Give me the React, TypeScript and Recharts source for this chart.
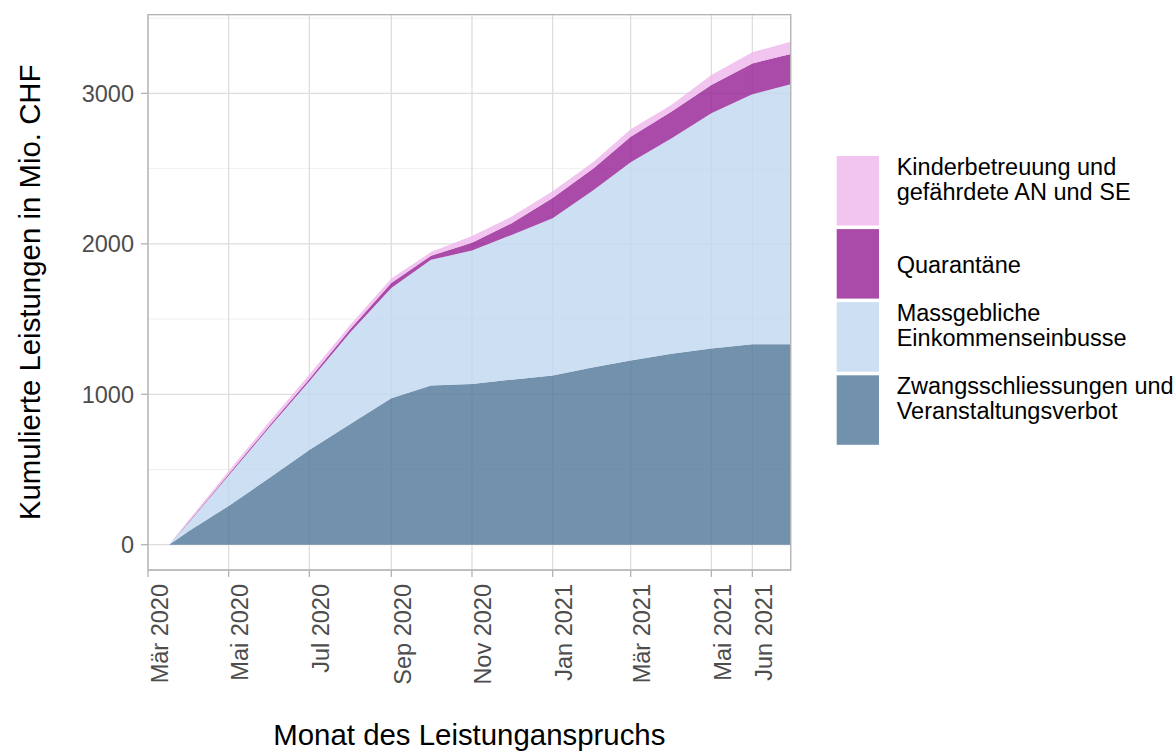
import {
  Area,
  AreaChart,
  CartesianGrid,
  ReferenceArea,
  XAxis,
  YAxis,
} from 'recharts';

const FONT = '"Liberation Sans", Arial, sans-serif';

// cumulative values in Mio. CHF (month starts)
const dates = [
  '2020-03-17', '2020-04-01', '2020-05-01', '2020-06-01', '2020-07-01',
  '2020-08-01', '2020-09-01', '2020-10-01', '2020-11-01', '2020-12-01',
  '2021-01-01', '2021-02-01', '2021-03-01', '2021-04-01', '2021-05-01',
  '2021-06-01', '2021-06-30',
];
const zwangs = [0, 91, 258, 445, 630, 803, 974, 1058, 1068, 1097, 1124, 1179, 1224, 1270, 1304, 1332, 1332];
const massgeb = [0, 59, 202, 337, 456, 609, 733, 836, 887, 962, 1046, 1179, 1319, 1432, 1564, 1662, 1728];
const quarantaene = [0, 4, 8, 12, 16, 22, 33, 26, 52, 78, 134, 144, 169, 177, 188, 205, 201];
const kinder = [0, 12, 22, 26, 29, 28, 30, 25, 45, 44, 45, 44, 50, 46, 66, 74, 82];

const xTicks = [
  '2020-03-01', '2020-05-01', '2020-07-01', '2020-09-01', '2020-11-01',
  '2021-01-01', '2021-03-01', '2021-05-01', '2021-06-01',
];
const xTickLabels = [
  'Mär 2020', 'Mai 2020', 'Jul 2020', 'Sep 2020', 'Nov 2020',
  'Jan 2021', 'Mär 2021', 'Mai 2021', 'Jun 2021',
];
const xLimits = ['2020-03-01', '2021-06-30'];
const yTicks = [0, 1000, 2000, 3000];
const yMinor = [500, 1500, 2500, 3500];
const yLimits = [-168, 3523];

const toTime = (s: string) => Date.parse(s + 'T00:00:00Z');

const series = [
  { key: 'zwangs', label: ['Zwangsschliessungen und', 'Veranstaltungsverbot'], color: '#4F7598' },
  { key: 'massgeb', label: ['Massgebliche', 'Einkommenseinbusse'], color: '#BFD7F0' },
  { key: 'quarantaene', label: ['Quarantäne'], color: '#951E95' },
  { key: 'kinder', label: ['Kinderbetreuung und', 'gefährdete AN und SE'], color: '#EFB5EC' },
];

const data = dates.map((d, i) => ({
  t: toTime(d),
  zwangs: zwangs[i],
  massgeb: massgeb[i],
  quarantaene: quarantaene[i],
  kinder: kinder[i],
}));

const tickTimes = xTicks.map(toTime);

const XTick = (props: any) => {
  const { x, y, payload } = props;
  const idx = tickTimes.indexOf(payload.value);
  return (
    <g transform={`translate(${x},${y}) rotate(-90)`}>
      <text x={0} y={0} dy={19.5} textAnchor="end" fill="#4D4D4D" fontSize={23.5} fontFamily={FONT}>
        {xTickLabels[idx]}
      </text>
    </g>
  );
};

const YTitle = (props: any) => {
  const { viewBox } = props;
  const cy = viewBox.y + viewBox.height / 2;
  return (
    <text
      x={40.5}
      y={cy}
      transform={`rotate(-90, 40.5, ${cy})`}
      textAnchor="middle"
      fontSize={29.4}
      fontFamily={FONT}
      fill="#000"
    >
      Kumulierte Leistungen in Mio. CHF
    </text>
  );
};

const XTitle = (props: any) => {
  const { viewBox } = props;
  return (
    <text
      x={viewBox.x + viewBox.width / 2}
      y={745}
      textAnchor="middle"
      fontSize={29.4}
      fontFamily={FONT}
      fill="#000"
    >
      Monat des Leistunganspruchs
    </text>
  );
};

function LegendBox() {
  const items = [...series].reverse();
  return (
    <svg
      width={1176}
      height={751}
      style={{ position: 'absolute', left: 0, top: 0, pointerEvents: 'none' }}
    >
      {items.map((s, i) => {
        const top = 156 + i * 73.1;
        return (
          <g key={s.key}>
            <rect x={836.7} y={top} width={42.3} height={69.5} fill={s.color} fillOpacity={0.8} />
            {s.label.length === 1 ? (
              <text x={896.7} y={top + 44} fontSize={23.5} fontFamily={FONT} fill="#000">
                {s.label[0]}
              </text>
            ) : (
              s.label.map((l, j) => (
                <text key={j} x={896.7} y={top + 18.5 + j * 25.5} fontSize={23.5} fontFamily={FONT} fill="#000">
                  {l}
                </text>
              ))
            )}
          </g>
        );
      })}
    </svg>
  );
}

export default function App() {
  const xDomain = xLimits.map(toTime);
  return (
    <div style={{ position: 'absolute', left: 0, top: 0, width: 1176, height: 751, background: '#fff' }}>
      <AreaChart
        width={1176}
        height={751}
        data={data}
        margin={{ top: 14.7, right: 385.3, bottom: 0, left: 0 }}
        style={{ fontFamily: FONT }}
      >
        <CartesianGrid vertical={false} horizontalValues={yMinor} stroke="#EBEBEB" strokeWidth={0.8} />
        <CartesianGrid stroke="#DEDEDE" strokeWidth={1.3} />
        <XAxis
          dataKey="t"
          type="number"
          domain={xDomain}
          allowDataOverflow
          ticks={tickTimes}
          interval={0}
          height={181}
          axisLine={false}
          tickLine={{ stroke: '#B3B3B3', strokeWidth: 1.3 }}
          tickSize={7}
          tickMargin={7}
          tick={<XTick />}
          label={<XTitle />}
        />
        <YAxis
          type="number"
          domain={yLimits}
          allowDataOverflow
          ticks={yTicks}
          interval={0}
          width={148}
          axisLine={false}
          tickLine={{ stroke: '#B3B3B3', strokeWidth: 1.3 }}
          tickSize={7}
          tickMargin={7}
          tick={{ fill: '#4D4D4D', fontSize: 23.5, fontFamily: FONT }}
          label={<YTitle />}
        />
        {series.map((s) => (
          <Area
            key={s.key}
            type="linear"
            dataKey={s.key}
            stackId="1"
            stroke="none"
            fill={s.color}
            fillOpacity={0.8}
            activeDot={false}
            isAnimationActive={false}
          />
        ))}
        <ReferenceArea
          x1={xDomain[0]}
          x2={xDomain[1]}
          y1={yLimits[0]}
          y2={yLimits[1]}
          fill="none"
          stroke="#B3B3B3"
          strokeWidth={1.3}
          ifOverflow="visible"
        />
      </AreaChart>
      <LegendBox />
    </div>
  );
}
